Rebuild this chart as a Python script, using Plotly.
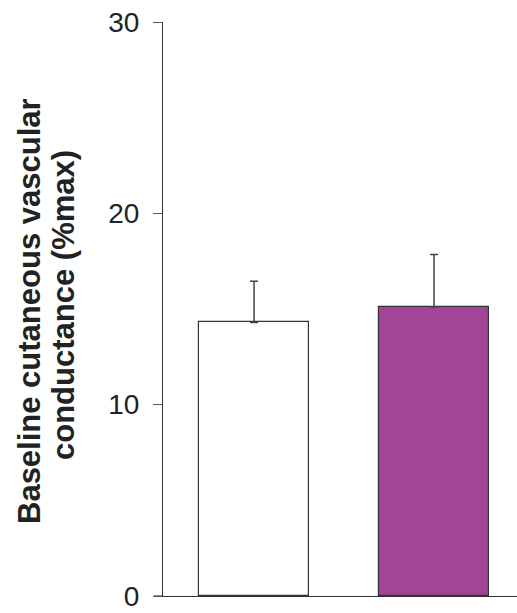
import plotly.graph_objects as go

groups = ["Control", "Treatment"]
means = [14.3, 15.1]
errors = [2.15, 2.75]
fill_colors = ["#FFFFFF", "#A34497"]
y_ticks = [0, 10, 20, 30]
title_line1 = "Baseline cutaneous vascular"
title_line2 = "conductance (%max)"

L, W = 163, 354  # plot area left / width in px

fig = go.Figure()
fig.add_trace(go.Bar(
    x=[0, 1],
    y=means,
    width=0.61,
    marker=dict(color=fill_colors, line=dict(color="#333333", width=1.2)),
    error_y=dict(type="data", symmetric=False, array=errors, arrayminus=[0, 0],
                 color="#444444", thickness=1.5, width=4),
    hovertext=groups,
))

fig.update_layout(
    width=517, height=613,
    margin=dict(l=L, r=0, t=22, b=17, autoexpand=False),
    plot_bgcolor="white", paper_bgcolor="white",
    showlegend=False,
    font=dict(family="Liberation Sans, Arial, sans-serif", color="#222222"),
    bargap=0,
)
fig.update_xaxes(range=[-0.506, 1.461], showticklabels=False, ticks="",
                 showgrid=False, zeroline=False, showline=True,
                 linecolor="#333333", linewidth=1.2)
fig.update_yaxes(range=[0, 30], tickvals=y_ticks, ticks="outside", ticklen=9,
                 tickcolor="#555555", tickwidth=1.2, showgrid=False,
                 zeroline=False, showline=True, linecolor="#333333", linewidth=1.2,
                 tickfont=dict(size=28, color="#222222"), ticklabelstandoff=8)
fig.add_shape(type="line", xref="paper", yref="y", x0=-9 / W, x1=0, y0=0, y1=0,
              line=dict(color="#333333", width=1.2))

for txt, px, py in [(title_line1, 29, 311), (title_line2, 64, 305)]:
    fig.add_annotation(text="<b>" + txt + "</b>", textangle=-90, showarrow=False,
                       xref="paper", yref="paper",
                       x=(px - L) / W, y=(596 - py) / (596 - 22),
                       xanchor="center", yanchor="middle",
                       font=dict(size=31, color="#222222"))

fig.write_html("out.html")
